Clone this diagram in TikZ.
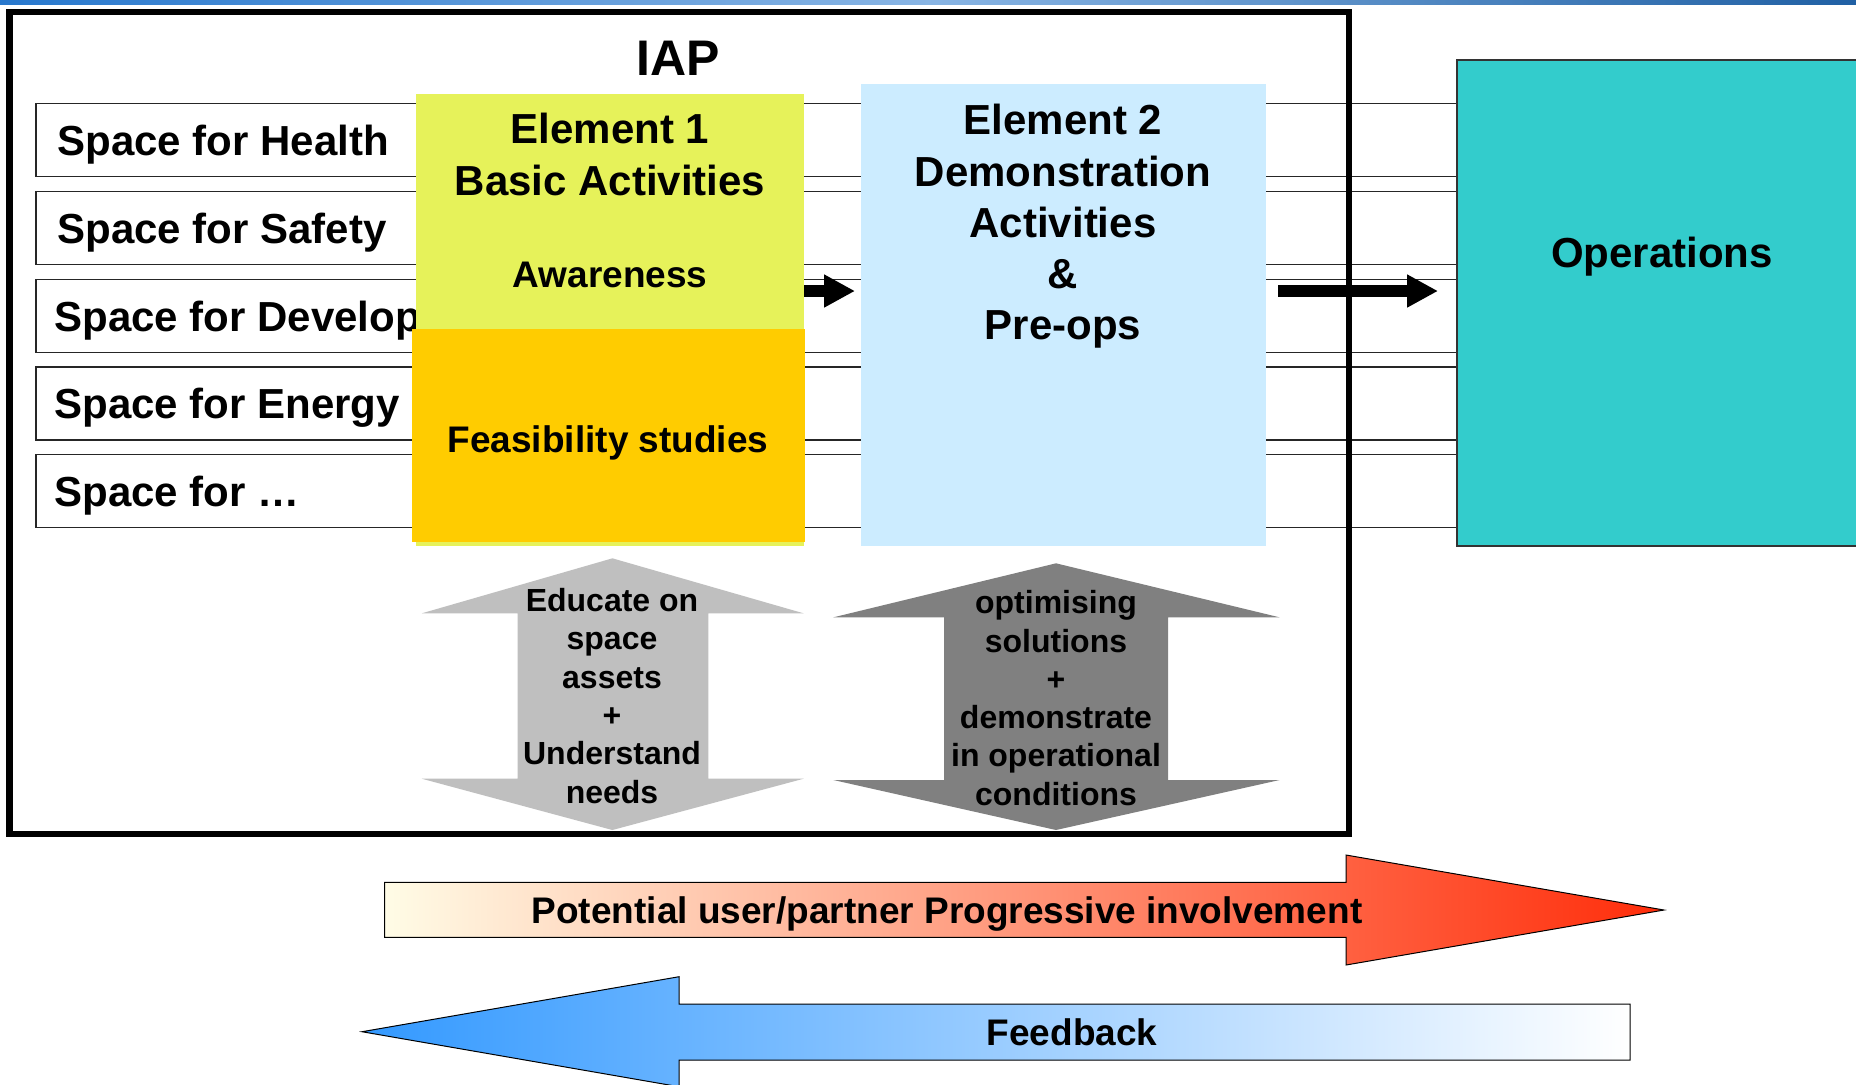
\documentclass[tikz,border=0pt]{standalone}
\usepackage{fontspec}
\setmainfont{Liberation Sans}
\usetikzlibrary{arrows.meta}
\definecolor{elA}{RGB}{230,242,90}
\definecolor{elB}{RGB}{255,204,0}
\definecolor{elC}{RGB}{204,236,255}
\definecolor{opsC}{RGB}{51,204,204}
\definecolor{lgray}{RGB}{191,191,191}
\definecolor{dgray}{RGB}{128,128,128}
\definecolor{cream}{RGB}{255,252,230}
\definecolor{peach}{RGB}{249,196,168}
\definecolor{redA}{RGB}{255,45,10}
\definecolor{blueA}{RGB}{51,153,255}
\definecolor{blueM}{RGB}{168,200,255}
\definecolor{strip}{RGB}{40,120,205}
\tikzset{
  rowbox/.style={draw=black!85, line width=0.8pt, minimum width=710.5pt, minimum height=36.5pt, anchor=north west, inner sep=0pt, outer sep=0pt},
  rowtext/.style={anchor=west, font=\fontsize{21}{25}\selectfont\bfseries, text height=15pt, text depth=0pt, inner sep=0pt},
  blk/.style={anchor=north west, inner sep=0pt, outer sep=0pt, draw=none},
  capA/.style={font=\fontsize{21}{25}\selectfont\bfseries, text height=15pt, text depth=0pt, inner sep=0pt},
  capB/.style={font=\fontsize{18.5}{22}\selectfont\bfseries, text height=13.25pt, text depth=0pt, inner sep=0pt},
  eltext/.style={font=\fontsize{21}{26}\selectfont\bfseries, align=center, inner sep=0pt},
  arrtext/.style={font=\fontsize{16}{19.15}\selectfont\bfseries, align=center, inner sep=0pt},
  flowarrow/.style={line width=6pt, -{Triangle[length=15.5pt,width=15.5pt]}},
  frame/.style={draw=black, line width=3.25pt, anchor=north west, inner sep=0pt, outer sep=0pt, minimum width=669.75pt, minimum height=411pt}
}
\begin{document}
\begin{tikzpicture}[x=0.5pt,y=-0.5pt]
\useasboundingbox (0,0) rectangle (1856,1084);
\fill[white] (0,0) rectangle (1856,1084);
\shade[left color=strip, right color=strip!80!black, middle color=strip!55!white] (0,0) rectangle (1856,4.5);

% rows
\node[rowbox] (r1) at (36,103.6) {};
\node[rowtext] (t1) at ([xshift=10.5pt]r1.west) {Space for Health};
\node[rowbox] (r2) at (36,191.6) {};
\node[rowtext] (t2) at ([xshift=10.5pt]r2.west) {Space for Safety};
\node[rowbox] (r3) at (36,279.6) {};
\node[rowtext] (t3) at ([xshift=9pt]r3.west) {Space for Develop};
\node[rowbox] (r4) at (36,366.8) {};
\node[rowtext] (t4) at ([xshift=9pt]r4.west) {Space for Energy};
\node[rowbox] (r5) at (36,454.6) {};
\node[rowtext] (t5) at ([xshift=9pt]r5.west) {Space for …};

% element boxes
\node[blk, fill=elA, minimum width=194pt, minimum height=226.2pt] (e1) at (416,93.6) {};
\node[blk, fill=elB, minimum width=196.5pt, minimum height=106.7pt] (e1b) at (412,328.6) {};
\node[blk, fill=elC, minimum width=202.5pt, minimum height=230.85pt] (e2) at (861,84) {};
\node[blk, fill=opsC, draw=black!80, line width=0.8pt, minimum width=210pt, minimum height=243pt] (ops) at (1457,60) {};

% frame
\node[frame] (iap) at (9.5,12) {};
\node[font=\fontsize{25}{30}\selectfont\bfseries, text height=17.9pt, text depth=0pt, inner sep=0pt] (iapt) at (678,58) {IAP};

% texts
\node[eltext] (e1t) at (610,154.3) {Element 1\\Basic Activities};
\node[capB] (aw) at (610,274) {Awareness};
\node[capB] (fs) at (608,439.3) {Feasibility studies};
\node[eltext, font=\fontsize{21}{25.55}\selectfont\bfseries] (e2t) at (1063,226.3) {Element 2\\Demonstration\\Activities\\\&\\Pre-ops};
\node[capA] (opt) at (1662,252.6) {Operations};

% flow arrows
\coordinate (a1) at (e1.east |- 0,291);
\coordinate (a2) at (855,291);
\draw[flowarrow] (a1) -- (a2);
\coordinate (b1) at (1278,291);
\coordinate (b2) at (1438,291);
\draw[flowarrow] (b1) -- (b2);

% double arrows
\fill[lgray] (612.4,558.3) -- (803.6,613.3) -- (708.3,613.3) -- (708.3,778.7) -- (803.6,778.7) -- (612.4,830) -- (421.8,778.7) -- (517.7,778.7) -- (517.7,613.3) -- (421.8,613.3) -- cycle;
\node[arrtext] (d1t) at (612,695.9) {Educate on\\space\\assets\\+\\Understand\\needs};
\fill[dgray] (1056,563.3) -- (1279.5,617.3) -- (1168,617.3) -- (1168,780) -- (1279.5,780) -- (1056,830) -- (833.4,780) -- (944,780) -- (944,617.3) -- (833.4,617.3) -- cycle;
\node[arrtext] (d2t) at (1056,698) {optimising\\solutions\\+\\demonstrate\\in operational\\conditions};

% progressive arrow
\shadedraw[draw=black, line width=0.5pt, left color=cream, middle color=peach, right color=redA]
  (384.6,882.3) -- (1346,882.3) -- (1346,855) -- (1664,910) -- (1346,965) -- (1346,937.3) -- (384.6,937.3) -- cycle;
\node[capB] (pt) at (947,910.3) {Potential user/partner Progressive involvement};

% feedback arrow
\shadedraw[draw=black, line width=0.5pt, left color=blueA, middle color=blueM, right color=white]
  (1630,1004) -- (679,1004) -- (679,976.7) -- (362,1031.7) -- (679,1086.7) -- (679,1060) -- (1630,1060) -- cycle;
\node[capB] (fb) at (1072,1032.5) {Feedback};
\end{tikzpicture}
\end{document}
